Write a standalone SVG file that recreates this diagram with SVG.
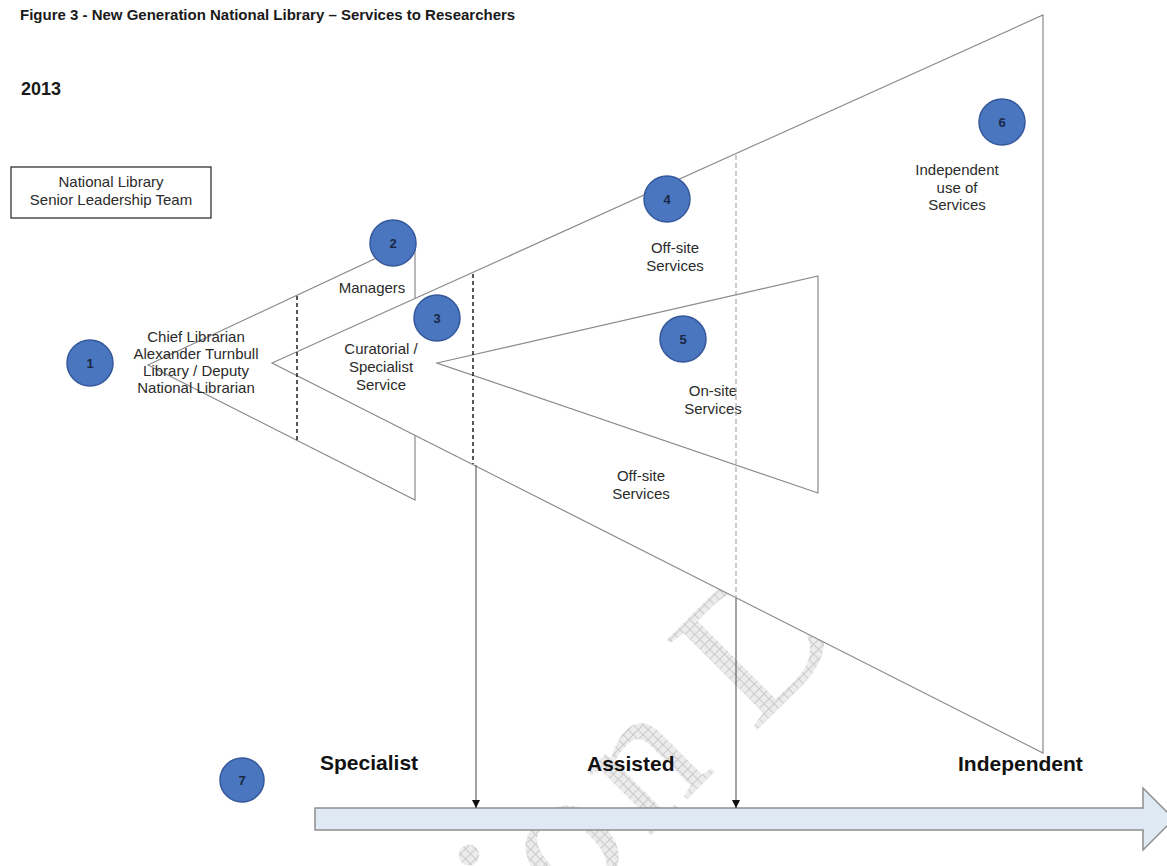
<svg xmlns="http://www.w3.org/2000/svg" width="1167" height="866" viewBox="0 0 1167 866">
  <defs>
    <pattern id="hatch" width="7" height="7" patternUnits="userSpaceOnUse">
      <rect width="7" height="7" fill="#ececec"/>
      <path d="M0 0.5H7M0.5 0V7" stroke="#cacaca" stroke-width="1"/>
    </pattern>
    <marker id="arrowhead" viewBox="0 0 8 10" refX="8" refY="5" markerWidth="8" markerHeight="10" markerUnits="userSpaceOnUse" orient="auto">
      <path d="M0,1 L8,5 L0,9 Z" fill="#111"/>
    </marker>
    <style>
      .title { font-family: "Liberation Sans", Arial, sans-serif; font-weight: bold; fill: #1a1a1a; }
      .lbl { font-family: "Liberation Sans", Arial, sans-serif; font-size: 15px; fill: #2b2b2b; text-anchor: middle; }
      .axis { font-family: "Liberation Sans", Arial, sans-serif; font-size: 21px; font-weight: bold; fill: #111; }
      .tri { fill: #fff; stroke: #8a8a8a; stroke-width: 1.2; stroke-linejoin: miter; }
      .badge circle { fill: #4a76c0; stroke: #34589a; stroke-width: 1.5; }
      .badge text { font-family: "Liberation Sans", Arial, sans-serif; font-size: 13px; font-weight: bold; fill: #1a2745; text-anchor: middle; }
      .divider { stroke: #111; stroke-width: 1.4; stroke-dasharray: 4 3; }
      .divider-light { stroke: #a9a9a9; stroke-width: 1.2; stroke-dasharray: 5 3; }
      .drop { stroke: #555; stroke-width: 1.1; fill: none; marker-end: url(#arrowhead); }
      .wm { font-family: "Liberation Serif", "Times New Roman", serif; font-size: 195px; fill: url(#hatch); text-anchor: middle; }
    </style>
  </defs>

  <rect width="1167" height="866" fill="#fff"/>

  <!-- watermark lettering behind the drawing -->
  <g id="watermark">
    <text class="wm" transform="translate(554,938) rotate(-45)">i</text>
    <text class="wm" transform="translate(604,884) rotate(-45)">o</text>
    <text class="wm" transform="translate(682,804) rotate(-45)">n</text>
    <text class="wm" transform="translate(803,684) rotate(-45)">D</text>
  </g>

  <text class="title" x="20" y="20" font-size="15">Figure 3 - New Generation National Library – Services to Researchers</text>
  <text class="title" x="21" y="95" font-size="18">2013</text>

  <g id="leadership-team">
    <rect x="11" y="167" width="200" height="51" fill="#fff" stroke="#222" stroke-width="1.2"/>
    <text class="lbl" x="111" y="187">National Library</text>
    <text class="lbl" x="111" y="205">Senior Leadership Team</text>
  </g>

  <!-- nested service wedges -->
  <g id="managers-wedge">
    <polygon class="tri" points="148,365 415,240 415,500"/>
    <text class="lbl" x="372" y="293">Managers</text>
  </g>
  <g id="offsite-wedge">
    <polygon class="tri" points="272,363 1043,15 1043,753"/>
    <text class="lbl" x="675" y="253">Off-site</text>
    <text class="lbl" x="675" y="271">Services</text>
    <text class="lbl" x="641" y="481">Off-site</text>
    <text class="lbl" x="641" y="499">Services</text>
    <text class="lbl" x="957" y="175">Independent</text>
    <text class="lbl" x="957" y="193">use of</text>
    <text class="lbl" x="957" y="210">Services</text>
  </g>
  <g id="onsite-wedge">
    <polygon class="tri" points="437,363 818,276 818,493"/>
    <text class="lbl" x="713" y="396">On-site</text>
    <text class="lbl" x="713" y="414">Services</text>
  </g>

  <g id="chief-librarian">
    <text class="lbl" x="196" y="342">Chief Librarian</text>
    <text class="lbl" x="196" y="359">Alexander Turnbull</text>
    <text class="lbl" x="196" y="376">Library / Deputy</text>
    <text class="lbl" x="196" y="393">National Librarian</text>
  </g>
  <g id="curatorial">
    <text class="lbl" x="381" y="354">Curatorial /</text>
    <text class="lbl" x="381" y="372">Specialist</text>
    <text class="lbl" x="381" y="390">Service</text>
  </g>

  <!-- spectrum arrow -->
  <g id="spectrum">
    <path d="M315,808 H1143 V788 L1174,819 L1143,850 V830 H315 Z" fill="#dfe9f4" stroke="#8e8e8e" stroke-width="1.5"/>
    <text class="axis" x="320" y="770">Specialist</text>
    <text class="axis" x="587" y="771">Assisted</text>
    <text class="axis" x="958" y="771">Independent</text>
  </g>

  <g id="connectors">
    <line class="divider" x1="297" y1="296" x2="297" y2="442"/>
    <line class="divider" x1="473" y1="274" x2="473" y2="464"/>
    <line class="divider-light" x1="736" y1="155" x2="736" y2="598"/>
    <line class="drop" x1="476" y1="465" x2="476" y2="808"/>
    <line class="drop" x1="736" y1="598" x2="736" y2="808"/>
  </g>

  <g id="badge-1" class="badge"><circle cx="90" cy="363" r="23"/><text x="90" y="368">1</text></g>
  <g id="badge-2" class="badge"><circle cx="393" cy="243" r="23"/><text x="393" y="248">2</text></g>
  <g id="badge-3" class="badge"><circle cx="437" cy="318" r="23"/><text x="437" y="323">3</text></g>
  <g id="badge-4" class="badge"><circle cx="667" cy="199" r="23"/><text x="667" y="204">4</text></g>
  <g id="badge-5" class="badge"><circle cx="683" cy="339" r="23"/><text x="683" y="344">5</text></g>
  <g id="badge-6" class="badge"><circle cx="1002" cy="122" r="23"/><text x="1002" y="127">6</text></g>
  <g id="badge-7" class="badge"><circle cx="242" cy="780" r="22"/><text x="242" y="785">7</text></g>
</svg>
